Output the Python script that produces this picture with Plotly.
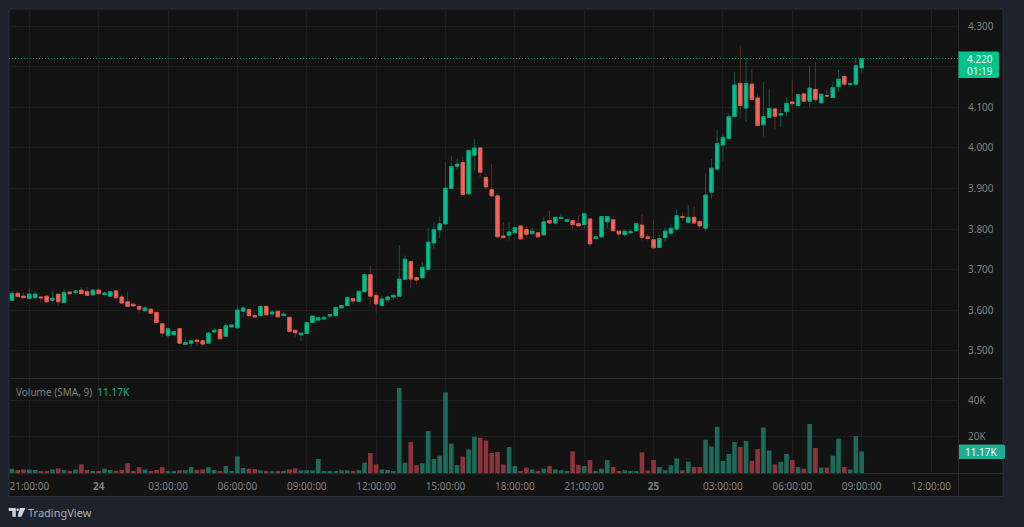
import pandas as pd
import plotly.graph_objects as go

# 15-minute bars
times = pd.date_range("2024-01-23 20:00", periods=149, freq="15min")

opens = [3.617,3.625,3.642,3.635,3.629,3.631,3.633,3.635,3.625,3.640,3.619,3.645,3.644,3.650,3.646,3.638,3.650,3.639,3.635,3.648,
         3.633,3.621,3.615,3.610,3.599,3.603,3.595,3.567,3.538,3.540,3.555,3.516,3.519,3.527,3.525,3.519,3.547,3.553,3.536,3.559,
         3.557,3.598,3.602,3.587,3.587,3.610,3.591,3.598,3.587,3.583,3.551,3.540,3.543,3.570,3.576,3.579,3.586,3.587,3.606,3.612,
         3.629,3.622,3.646,3.688,3.637,3.612,3.626,3.633,3.635,3.676,3.720,3.681,3.680,3.701,3.766,3.798,3.813,3.900,3.955,3.964,
         3.887,3.982,4.000,3.927,3.897,3.882,3.783,3.785,3.791,3.808,3.799,3.789,3.791,3.786,3.821,3.815,3.826,3.819,3.821,3.814,
         3.811,3.825,3.777,3.781,3.818,3.823,3.795,3.787,3.791,3.796,3.810,3.781,3.774,3.755,3.779,3.790,3.800,3.831,3.817,3.829,
         3.819,3.802,3.891,3.948,4.007,4.023,4.077,4.159,4.098,4.157,4.123,4.057,4.075,4.096,4.081,4.089,4.113,4.104,4.133,4.115,
         4.144,4.111,4.129,4.124,4.151,4.176,4.156,4.157,4.197]
highs = [3.626,3.648,3.648,3.645,3.654,3.647,3.633,3.635,3.648,3.640,3.654,3.645,3.648,3.658,3.657,3.650,3.650,3.643,3.646,3.648,
         3.640,3.646,3.620,3.610,3.610,3.603,3.595,3.567,3.558,3.548,3.555,3.534,3.525,3.527,3.525,3.548,3.557,3.553,3.568,3.564,
         3.611,3.611,3.602,3.595,3.610,3.610,3.601,3.598,3.597,3.583,3.551,3.544,3.570,3.586,3.585,3.583,3.589,3.607,3.612,3.636,
         3.629,3.647,3.691,3.709,3.645,3.636,3.633,3.637,3.761,3.735,3.720,3.681,3.719,3.803,3.817,3.831,3.965,3.980,3.975,3.978,
         3.994,4.022,4.000,3.937,3.960,3.888,3.817,3.817,3.804,3.808,3.808,3.804,3.791,3.831,3.845,3.829,3.838,3.827,3.821,3.834,
         3.838,3.825,3.781,3.831,3.831,3.827,3.795,3.795,3.799,3.814,3.837,3.788,3.822,3.787,3.804,3.813,3.850,3.841,3.859,3.857,
         3.822,3.937,3.973,4.045,4.034,4.085,4.187,4.252,4.223,4.195,4.134,4.163,4.146,4.096,4.095,4.124,4.167,4.131,4.133,4.202,
         4.212,4.132,4.142,4.163,4.192,4.176,4.159,4.220,4.220]
lows = [3.617,3.625,3.634,3.631,3.629,3.631,3.621,3.621,3.621,3.612,3.619,3.637,3.640,3.641,3.637,3.638,3.641,3.639,3.635,3.631,
        3.618,3.610,3.609,3.594,3.599,3.592,3.570,3.534,3.532,3.540,3.519,3.516,3.508,3.512,3.510,3.519,3.547,3.530,3.536,3.559,
        3.557,3.584,3.580,3.584,3.587,3.589,3.591,3.584,3.587,3.548,3.535,3.525,3.543,3.570,3.576,3.576,3.580,3.587,3.606,3.612,
        3.616,3.622,3.646,3.614,3.594,3.612,3.626,3.626,3.635,3.676,3.654,3.663,3.680,3.701,3.752,3.778,3.809,3.900,3.946,3.885,
        3.887,3.944,3.927,3.898,3.882,3.781,3.779,3.772,3.791,3.776,3.781,3.786,3.781,3.786,3.815,3.811,3.826,3.818,3.799,3.808,
        3.799,3.758,3.777,3.781,3.802,3.796,3.781,3.781,3.791,3.796,3.772,3.772,3.754,3.755,3.769,3.785,3.800,3.821,3.817,3.815,
        3.800,3.794,3.875,3.944,3.967,4.023,4.077,4.074,4.064,4.119,4.055,4.028,4.075,4.047,4.051,4.077,4.101,4.104,4.111,4.100,
        4.111,4.111,4.123,4.124,4.138,4.151,4.151,4.151,4.185]
closes = [3.626,3.642,3.634,3.631,3.640,3.640,3.631,3.621,3.630,3.621,3.644,3.641,3.648,3.641,3.637,3.650,3.641,3.643,3.646,3.631,
          3.618,3.610,3.611,3.603,3.606,3.593,3.570,3.544,3.555,3.548,3.519,3.521,3.525,3.523,3.517,3.544,3.551,3.530,3.562,3.564,
          3.601,3.606,3.587,3.584,3.610,3.589,3.596,3.584,3.591,3.548,3.545,3.544,3.570,3.586,3.582,3.583,3.589,3.607,3.612,3.631,
          3.623,3.647,3.688,3.635,3.616,3.628,3.633,3.637,3.677,3.726,3.677,3.675,3.706,3.768,3.799,3.813,3.901,3.954,3.960,3.885,
          3.994,4.000,3.940,3.904,3.882,3.781,3.779,3.793,3.804,3.776,3.787,3.795,3.781,3.818,3.815,3.829,3.829,3.823,3.811,3.808,
          3.838,3.764,3.781,3.831,3.831,3.796,3.788,3.795,3.794,3.814,3.780,3.777,3.754,3.777,3.795,3.802,3.833,3.829,3.829,3.815,
          3.808,3.884,3.950,4.011,4.026,4.077,4.155,4.104,4.159,4.119,4.055,4.077,4.097,4.078,4.084,4.110,4.109,4.131,4.115,4.147,
          4.119,4.132,4.128,4.148,4.169,4.157,4.159,4.202,4.220]
volumes = [1.5,2.4,1.7,2.0,2.0,1.7,0.6,0.6,2.0,2.6,1.7,0.6,2.0,4.8,1.7,0.9,0.6,2.4,1.7,1.3,
           1.7,5.4,1.1,3.3,2.0,1.1,1.7,3.3,0.9,0.9,1.5,1.5,3.3,1.7,2.0,3.3,1.7,0.9,3.9,1.1,
           9.3,2.8,2.4,2.2,1.5,0.9,0.9,0.9,0.9,2.0,2.6,1.5,1.5,1.5,7.8,0.9,0.9,0.9,1.5,1.5,
           0.9,1.5,5.7,11.1,4.8,2.0,1.7,1.1,47.2,5.7,17.2,4.4,5.4,23.3,7.8,9.6,44.8,16.3,4.4,9.1,
           13.0,20.2,19.6,18.1,11.1,11.7,4.8,14.4,3.9,0.9,3.0,2.0,0.9,2.4,3.9,2.0,1.5,1.1,12.0,4.4,
           3.9,7.2,0.6,2.4,7.2,3.3,0.9,1.5,0.6,0.9,11.5,1.5,7.2,3.3,1.5,4.3,8.1,1.5,6.3,3.3,
           3.3,18.5,14.8,25.7,6.7,10.6,17.2,14.4,17.8,6.7,13.3,25.3,12.4,4.8,6.3,10.6,7.2,3.3,2.4,27.2,
           13.9,3.0,3.0,9.6,19.1,3.3,2.0,20.5,12.0]

price_ticks = [3.5, 3.6, 3.7, 3.8, 3.9, 4.0, 4.1, 4.2, 4.3]
volume_ticks = [20000, 40000]
volume_tick_labels = ["20K", "40K"]
time_ticks = ["2024-01-23 21:00", "2024-01-24 00:00", "2024-01-24 03:00", "2024-01-24 06:00", "2024-01-24 09:00",
              "2024-01-24 12:00", "2024-01-24 15:00", "2024-01-24 18:00", "2024-01-24 21:00", "2024-01-25 00:00",
              "2024-01-25 03:00", "2024-01-25 06:00", "2024-01-25 09:00", "2024-01-25 12:00"]
time_tick_labels = ["21:00:00", "<b>24</b>", "03:00:00", "06:00:00", "09:00:00", "12:00:00", "15:00:00", "18:00:00",
                    "21:00:00", "<b>25</b>", "03:00:00", "06:00:00", "09:00:00", "12:00:00"]
last_price_label = "4.220"
countdown_label = "01:19"
sma_label = "11.17K"

PAGE = "#1e222d"
PANEL = "#131313"
GRID = "#1e1e1e"
EDGE = "#2a2a2d"
UP = "#04c48e"
DOWN = "#f7665a"
UP_EDGE = "#06a57a"
DOWN_EDGE = "#e0584e"
UP_WICK = "#0c5a46"
DOWN_WICK = "#5e2c28"
UP_VOL = "#1c6a59"
DOWN_VOL = "#8c343a"
TEXT = "#808080"
FONT = "Noto Sans"

W, H = 1024, 527
L, R, T, B = 9, 958, 9, 473


def px(x):
    return (x - L) / (R - L)


def py(y):
    return (B - y) / (B - T)


def rounded_box(x0, y0, x1, y1, r=2):
    """Axis tag outline with a square left edge and rounded right corners."""
    return " ".join([
        f"M {px(x0)} {py(y0)} L {px(x1 - r)} {py(y0)} Q {px(x1)} {py(y0)} {px(x1)} {py(y0 + r)}",
        f"L {px(x1)} {py(y1 - r)} Q {px(x1)} {py(y1)} {px(x1 - r)} {py(y1)} L {px(x0)} {py(y1)} Z",
    ])


body_tops = [max(o, c) for o, c in zip(opens, closes)]
body_bottoms = [min(o, c) for o, c in zip(opens, closes)]
volume_colors = [UP_VOL if c >= o else DOWN_VOL for o, c in zip(opens, closes)]

fig = go.Figure()

# Wicks underneath, in their dimmer colours
fig.add_trace(go.Candlestick(
    x=times, open=opens, high=highs, low=lows, close=closes, yaxis="y",
    increasing=dict(line=dict(color=UP_WICK, width=1), fillcolor=UP_WICK),
    decreasing=dict(line=dict(color=DOWN_WICK, width=1), fillcolor=DOWN_WICK),
    whiskerwidth=0, showlegend=False, hoverinfo="skip",
))
# Bodies on top
fig.add_trace(go.Candlestick(
    x=times, open=opens, high=body_tops, low=body_bottoms, close=closes, yaxis="y",
    increasing=dict(line=dict(color=UP_EDGE, width=1), fillcolor=UP),
    decreasing=dict(line=dict(color=DOWN_EDGE, width=1), fillcolor=DOWN),
    whiskerwidth=0, showlegend=False, hoverinfo="skip",
))
fig.add_trace(go.Bar(
    x=times, y=[v * 1000 for v in volumes], yaxis="y2",
    marker=dict(color=volume_colors, line_width=0), showlegend=False, hoverinfo="skip",
))

shapes = [
    # Chart panel including the price and time scales
    dict(type="rect", xref="paper", yref="paper", x0=px(9), x1=px(1003), y0=py(496.5), y1=py(9),
         fillcolor=PANEL, line=dict(color="#2a2e39", width=1), layer="below"),
    # Pane separators and scale borders
    dict(type="line", xref="paper", yref="paper", x0=px(9), x1=px(1003), y0=py(378.5), y1=py(378.5),
         line=dict(color=EDGE, width=1), layer="above"),
    dict(type="line", xref="paper", yref="paper", x0=px(9), x1=px(1003), y0=py(473.5), y1=py(473.5),
         line=dict(color=EDGE, width=1), layer="above"),
    dict(type="line", xref="paper", yref="paper", x0=px(958.5), x1=px(958.5), y0=py(496), y1=py(9),
         line=dict(color=EDGE, width=1), layer="above"),
    # Last price line
    dict(type="line", xref="paper", yref="y", x0=0, x1=1, y0=closes[-1], y1=closes[-1],
         line=dict(color="#0e8a68", width=1, dash="1px,2px"), layer="above"),
    # Scale tags
    dict(type="path", xref="paper", yref="paper", path=rounded_box(958.5, 51.5, 999, 78),
         fillcolor="#02c389", line_width=0, layer="above"),
    dict(type="path", xref="paper", yref="paper", path=rounded_box(959, 444.5, 1005, 459),
         fillcolor="#22ab94", line_width=0, layer="above"),
    # Logo: T, dot and slanted V
    dict(type="path", xref="paper", yref="paper", fillcolor="#d1d4dc", line_width=0, layer="above",
         path=" ".join([
             f"M {px(8.7)} {py(508)} L {px(15.8)} {py(508)} L {px(15.8)} {py(516.8)} L {px(12.4)} {py(516.8)}",
             f"L {px(12.4)} {py(511)} L {px(8.7)} {py(511)} Z",
         ])),
    dict(type="circle", xref="paper", yref="paper", x0=px(16.4), x1=px(18.9), y0=py(511), y1=py(508.4),
         fillcolor="#d1d4dc", line_width=0, layer="above"),
    dict(type="path", xref="paper", yref="paper", fillcolor="#d1d4dc", line_width=0, layer="above",
         path=" ".join([
             f"M {px(19.9)} {py(508)} L {px(25.4)} {py(508)} L {px(21.4)} {py(516.8)} L {px(17.6)} {py(516.8)} Z",
         ])),
]


def tag_text(text, x, y, color="#eafff8"):
    return dict(text=text, xref="paper", yref="paper", x=px(x), y=py(y), xanchor="center", yanchor="middle",
                showarrow=False, borderpad=0, height=11, valign="middle",
                font=dict(family=FONT, size=10, color=color))


annotations = [
    tag_text(last_price_label, 979.5, 59),
    tag_text(countdown_label, 979.5, 71),
    tag_text(sma_label, 981.5, 451.7, "#f2fbf9"),
    dict(text=f'Volume (SMA, 9)  <span style="color:#22ab94">{sma_label}</span>', xref="paper", yref="paper",
         x=px(13.5), y=py(392), xanchor="left", yanchor="middle", showarrow=False,
         font=dict(family=FONT, size=10, color=TEXT)),
    dict(text="TradingView", xref="paper", yref="paper", x=px(26), y=py(512.5), xanchor="left", yanchor="middle",
         showarrow=False, font=dict(family=FONT, size=11, color="#a9acb4")),
]

fig.update_layout(
    width=W, height=H,
    margin=dict(l=L, r=W - R, t=T, b=H - B, pad=0),
    paper_bgcolor=PAGE, plot_bgcolor=PANEL,
    font=dict(family=FONT, size=10, color=TEXT),
    bargap=0.2, boxgap=0.15, showlegend=False,
    xaxis=dict(
        type="date", anchor="y2", range=["2024-01-23 20:07:20", "2024-01-25 13:10:00"],
        rangeslider=dict(visible=False), tickmode="array", tickvals=time_ticks, ticktext=time_tick_labels,
        showgrid=True, gridcolor=GRID, gridwidth=1, zeroline=False, showline=False,
        ticks="outside", ticklen=4, tickcolor="rgba(0,0,0,0)", tickangle=0, tickfont=dict(family=FONT, size=10, color=TEXT),
    ),
    yaxis=dict(
        domain=[py(378), 1], side="right", anchor="x", range=[3.4335, 4.342], tickmode="array", tickvals=price_ticks,
        tickformat=".3f", showgrid=True, gridcolor=GRID, gridwidth=1, zeroline=False, showline=False,
        ticks="outside", ticklen=7, tickcolor="rgba(0,0,0,0)", tickfont=dict(family=FONT, size=10, color=TEXT),
    ),
    yaxis2=dict(
        domain=[0, py(379)], side="right", anchor="x", range=[0, 52200], tickmode="array", tickvals=volume_ticks,
        ticktext=volume_tick_labels, showgrid=True, gridcolor=GRID, gridwidth=1, zeroline=False, showline=False,
        ticks="outside", ticklen=7, tickcolor="rgba(0,0,0,0)", tickfont=dict(family=FONT, size=10, color=TEXT),
    ),
    shapes=shapes, annotations=annotations,
)

fig.write_html("out.html", config=dict(displayModeBar=False))
